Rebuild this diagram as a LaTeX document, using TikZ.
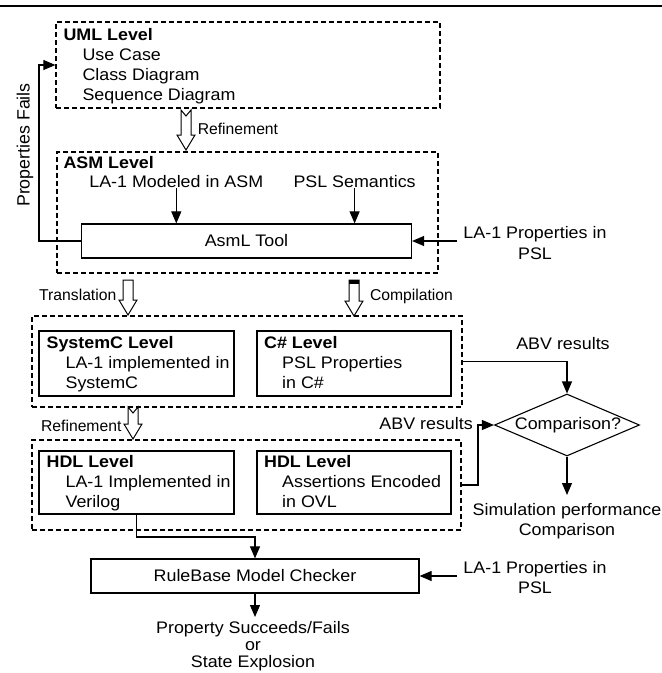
\documentclass[tikz,border=0pt]{standalone}
\usepackage{graphicx}
\usepackage{fontspec}
\setmainfont{Liberation Sans}
\newfontfamily\widesans[FakeStretch=1.07]{Liberation Sans}
\usetikzlibrary{arrows.meta,shapes.geometric}
\tikzset{
  txt/.style={inner sep=0pt, font=\widesans\fontsize{16.7}{20}\selectfont},
  lbl/.style={inner sep=0pt, font=\fontsize{15.7}{18}\selectfont},
  dbox/.style={draw, line width=1.2pt, dash pattern=on 5pt off 3pt, inner sep=0pt},
  sbox/.style={draw, line width=1.2pt, inner sep=0pt, font=\widesans\fontsize{16.7}{20}\selectfont},
  arr/.style={line width=1.1pt, -{Triangle[length=12pt,width=10pt]}},
  hollow/.style={draw, line width=1pt, fill=white, line join=miter}
}
\newcommand\harrownotch[3]{%
  \draw[hollow] ({#1-5},#2) -- ({#1-5},{#3-15}) -- ({#1-9},{#3-15}) -- (#1,#3)
    -- ({#1+9},{#3-15}) -- ({#1+5},{#3-15}) -- ({#1+5},#2) -- (#1,{#2+6}) -- cycle;}
\newcommand\harrowflat[3]{%
  \draw[hollow] ({#1-5},#2) -- ({#1-5},{#3-15}) -- ({#1-9},{#3-15}) -- (#1,#3)
    -- ({#1+9},{#3-15}) -- ({#1+5},{#3-15}) -- ({#1+5},#2) -- cycle;}
\begin{document}
\begin{tikzpicture}[x=1pt,y=-1pt]
\useasboundingbox (0,0) rectangle (662,673);
% top rule
\coordinate (rl) at (0,6);
\coordinate (rr) at (662,6);
\draw[line width=2pt] (rl) -- (rr);

% UML level
\node[dbox, minimum width=384pt, minimum height=86pt] (uml) at (248,65) {};
\node[txt, anchor=base west] (umlt) at (63.3,40.5) {\bfseries UML Level};
\node[txt, anchor=base west] (uc) at (82.3,60) {Use Case};
\node[txt, anchor=base west] (cd) at (82.3,80) {Class Diagram};
\node[txt, anchor=base west] (sd) at (82.3,100) {Sequence Diagram};

% refinement 1
\harrownotch{186}{110}{150}
\node[lbl, anchor=base west] (ref1) at (197.6,134) {Refinement};

% ASM level
\node[dbox, minimum width=381pt, minimum height=121pt] (asm) at (247.5,212.5) {};
\node[txt, anchor=base west] (asmt) at (63.3,168) {\bfseries ASM Level};
\node[txt, anchor=base, inner sep=1pt] (lam) at (176.3,187) {LA-1 Modeled in ASM};
\node[txt, anchor=base, inner sep=1pt] (psls) at (354.6,187) {PSL Semantics};
\node[sbox, minimum width=330pt, minimum height=34pt] (asml) at (246.5,241) {AsmL Tool};
\draw[arr] (lam.south) -- (lam.south |- asml.north);
\draw[arr] (psls.south) -- (psls.south |- asml.north);

% properties in PSL (1)
\node[txt, anchor=base] (p1a) at (535,238) {LA-1 Properties in};
\node[txt, anchor=base] (p1b) at (535,259) {PSL};
\coordinate (p1s) at (457,241);
\draw[arr] (p1s) -- (asml.east);

% feedback
\coordinate (fbc) at (39,241);
\draw[arr] (asml.west) -- (fbc) |- (uml.west);
\node[inner sep=0pt, font=\fontsize{17.8}{20}\selectfont] (pf) at (25,145) {\rotatebox{90}{Properties Fails}};

% translation / compilation
\harrowflat{128}{280}{315}
\node[lbl, anchor=base east] (trl) at (116.5,300) {Translation};
\harrowflat{354}{280}{316}
\fill (349,280) rectangle (359,284);
\node[lbl, anchor=base west] (cpl) at (369.8,300) {Compilation};

% SystemC / C# level
\node[dbox, minimum width=430pt, minimum height=91pt] (sysout) at (247,361.5) {};
\node[sbox, minimum width=195pt, minimum height=65pt] (sysc) at (136.5,363.5) {};
\node[sbox, minimum width=194pt, minimum height=65pt] (cs) at (354,363.5) {};
\node[txt, anchor=base west] (st1) at (46.4,348) {\bfseries SystemC Level};
\node[txt, anchor=base west] (st2) at (65.4,368) {LA-1 implemented in};
\node[txt, anchor=base west] (st3) at (65.4,388) {SystemC};
\node[txt, anchor=base west] (ct1) at (263.9,348) {\bfseries C\# Level};
\node[txt, anchor=base west] (ct2) at (282,368) {PSL Properties};
\node[txt, anchor=base west] (ct3) at (282,388) {in C\#};

% comparison diamond
\node[draw, diamond, line width=1.1pt, minimum width=145pt, minimum height=62pt, inner sep=0pt, aspect=2.34] (dia) at (567,425) {};
\node[txt] (diat) at (568,425) {Comparison?};
\node[txt, anchor=base] (abv1) at (563,349) {ABV results};
\draw[arr] (sysout.east) -| (dia.north);

% refinement 2
\harrownotch{133}{407}{439}
\node[lbl, anchor=base east] (ref2) at (121.6,431) {Refinement};

% HDL level
\node[dbox, minimum width=429pt, minimum height=90pt] (hdlout) at (246.5,485) {};
\node[sbox, minimum width=195pt, minimum height=63pt] (hdl1) at (136.5,482.5) {};
\node[sbox, minimum width=194pt, minimum height=63pt] (hdl2) at (354,482.5) {};
\node[txt, anchor=base west] (ht1) at (46.4,467) {\bfseries HDL Level};
\node[txt, anchor=base west] (ht2) at (65.4,487) {LA-1 Implemented in};
\node[txt, anchor=base west] (ht3) at (65.4,507) {Verilog};
\node[txt, anchor=base west] (hu1) at (263.9,467) {\bfseries HDL Level};
\node[txt, anchor=base west] (hu2) at (282,487) {Assertions Encoded};
\node[txt, anchor=base west] (hu3) at (282,507) {in OVL};

% ABV results 2
\node[txt, anchor=base east] (abv2) at (473,429) {ABV results};
\coordinate (ab2) at (478,485);
\draw[arr] (hdlout.east) -- (ab2) |- (dia.west);

% simulation performance
\coordinate (diab) at (567,495);
\draw[arr] (dia.south) -- (diab);
\node[txt, anchor=base] (sp1) at (567,515) {Simulation performance};
\node[txt, anchor=base] (sp2) at (567,535) {Comparison};

% RuleBase model checker
\node[sbox, minimum width=328pt, minimum height=34pt] (rb) at (255,576) {RuleBase Model Checker};
\coordinate (vj) at (136.5,537);
\draw[arr] (hdl1.south) -- (vj) -| (rb.north);
\node[txt, anchor=base] (p2a) at (535,573) {LA-1 Properties in};
\node[txt, anchor=base] (p2b) at (535,593) {PSL};
\coordinate (p2s) at (457,576);
\draw[arr] (p2s) -- (rb.east);
\coordinate (rbb) at (255,617);
\draw[arr] (rb.south) -- (rbb);
\node[txt, anchor=base] (o1) at (253,633) {Property Succeeds/Fails};
\node[txt, anchor=base] (o2) at (253,650) {or};
\node[txt, anchor=base] (o3) at (253,667) {State Explosion};
\end{tikzpicture}
\end{document}
